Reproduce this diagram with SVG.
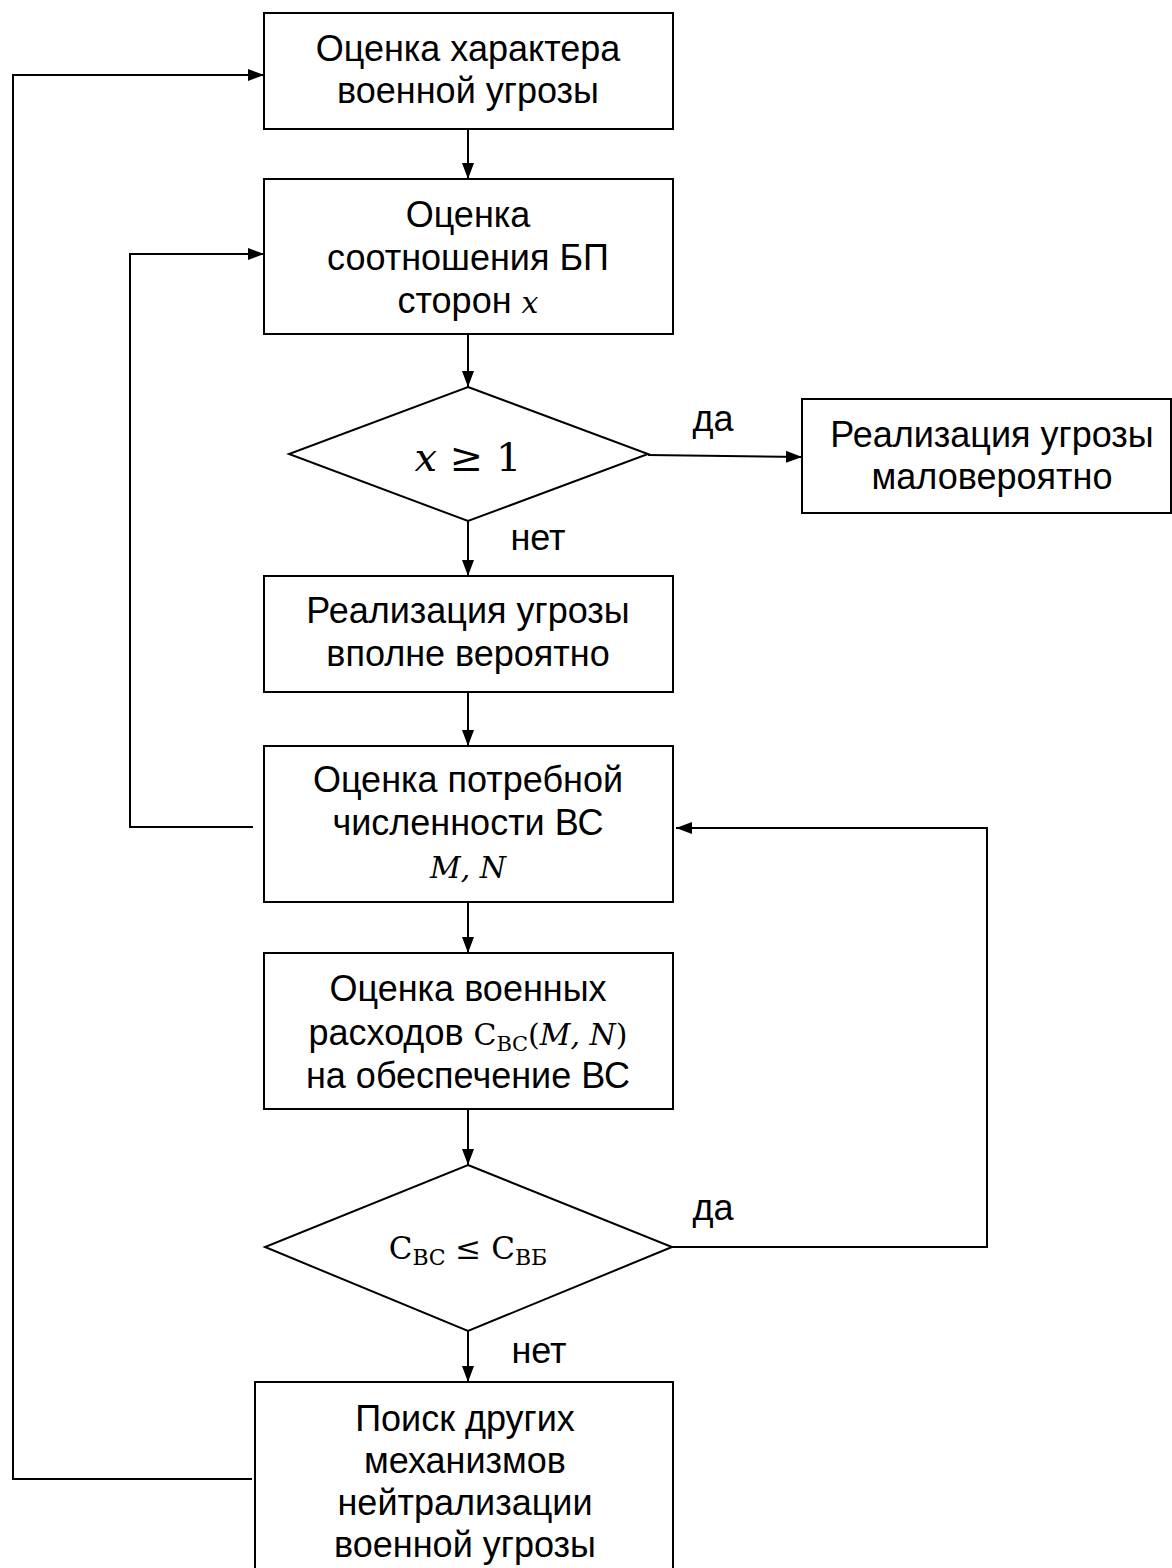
<svg xmlns="http://www.w3.org/2000/svg" width="1172" height="1568" viewBox="0 0 1172 1568">
<style>
.b{fill:#fff;stroke:#000;stroke-width:2}
.t{font-family:"Liberation Sans",Arial,sans-serif;font-size:36px;text-anchor:middle;fill:#000}
.m{font-family:"DejaVu Serif","Liberation Serif",serif;font-style:italic}
.r{font-family:"DejaVu Serif","Liberation Serif",serif}
.c{fill:none;stroke:#000;stroke-width:2}
</style>
<defs>
<marker id="a" markerWidth="16" markerHeight="12" refX="16" refY="6" orient="auto" markerUnits="userSpaceOnUse">
<path d="M0,0 L16,6 L0,12 Z" fill="#000"/>
</marker>
</defs>
<g id="connectors">
<path class="c" d="M468,129 V179" marker-end="url(#a)"/>
<path class="c" d="M468,334 V387" marker-end="url(#a)"/>
<path class="c" d="M648,455 L802,457" marker-end="url(#a)"/>
<path class="c" d="M468,521 V576" marker-end="url(#a)"/>
<path class="c" d="M468,692 V746" marker-end="url(#a)"/>
<path class="c" d="M468,902 V953" marker-end="url(#a)"/>
<path class="c" d="M468,1109 V1165" marker-end="url(#a)"/>
<path class="c" d="M468,1331 V1382" marker-end="url(#a)"/>
<path class="c" d="M253,827 H130 V254 H264" marker-end="url(#a)"/>
<path class="c" d="M672,1247 H987 V828 H676" marker-end="url(#a)"/>
<path class="c" d="M252,1479 H13 V75 H264" marker-end="url(#a)"/>
<text class="t" x="713" y="431">да</text>
<text class="t" x="538" y="550">нет</text>
<text class="t" x="713" y="1220">да</text>
<text class="t" x="539" y="1363">нет</text>
</g>
<g id="n1">
<rect class="b" x="264" y="13" width="409" height="116"/>
<text class="t" x="468" y="61">Оценка характера</text>
<text class="t" x="468" y="103">военной угрозы</text>
</g>
<g id="n2">
<rect class="b" x="264" y="179" width="409" height="155"/>
<text class="t" x="468" y="227">Оценка</text>
<text class="t" x="468" y="270">соотношения БП</text>
<text class="t" x="468" y="313">сторон <tspan class="m" style="font-size:30px">x</tspan></text>
</g>
<g id="d1">
<polygon class="b" points="468,387 648,454 468,521 289,454"/>
<text class="t r" x="468" y="471" style="font-size:40px"><tspan class="m">x</tspan> ≥ 1</text>
</g>
<g id="n3">
<rect class="b" x="802" y="399" width="369" height="114"/>
<text class="t" x="992" y="447">Реализация угрозы</text>
<text class="t" x="992" y="489">маловероятно</text>
</g>
<g id="n4">
<rect class="b" x="264" y="576" width="409" height="116"/>
<text class="t" x="468" y="623">Реализация угрозы</text>
<text class="t" x="468" y="666">вполне вероятно</text>
</g>
<g id="n5">
<rect class="b" x="264" y="746" width="409" height="156"/>
<text class="t" x="468" y="792">Оценка потребной</text>
<text class="t" x="468" y="835">численности ВС</text>
<text class="t m" x="468" y="878" style="font-size:30px">M, N</text>
</g>
<g id="n6">
<rect class="b" x="264" y="953" width="409" height="156"/>
<text class="t" x="468" y="1001">Оценка военных</text>
<text class="t" x="468" y="1045">расходов <tspan class="r" style="font-size:30px">С</tspan><tspan class="r" style="font-size:21px" dy="6">ВС</tspan><tspan class="r" style="font-size:30px" dy="-6">(</tspan><tspan class="m" style="font-size:30px">M, N</tspan><tspan class="r" style="font-size:30px">)</tspan></text>
<text class="t" x="468" y="1088">на обеспечение ВС</text>
</g>
<g id="d2">
<polygon class="b" points="468,1165 672,1247 468,1331 265,1247"/>
<text class="t r" x="468" y="1259" style="font-size:31px">С<tspan style="font-size:22px" dy="6">ВС</tspan><tspan dy="-6"> ≤ С</tspan><tspan style="font-size:22px" dy="6">ВБ</tspan></text>
</g>
<g id="n7">
<rect class="b" x="255" y="1382" width="418" height="200"/>
<text class="t" x="465" y="1431">Поиск других</text>
<text class="t" x="465" y="1473">механизмов</text>
<text class="t" x="465" y="1515">нейтрализации</text>
<text class="t" x="465" y="1557">военной угрозы</text>
</g>
</svg>
